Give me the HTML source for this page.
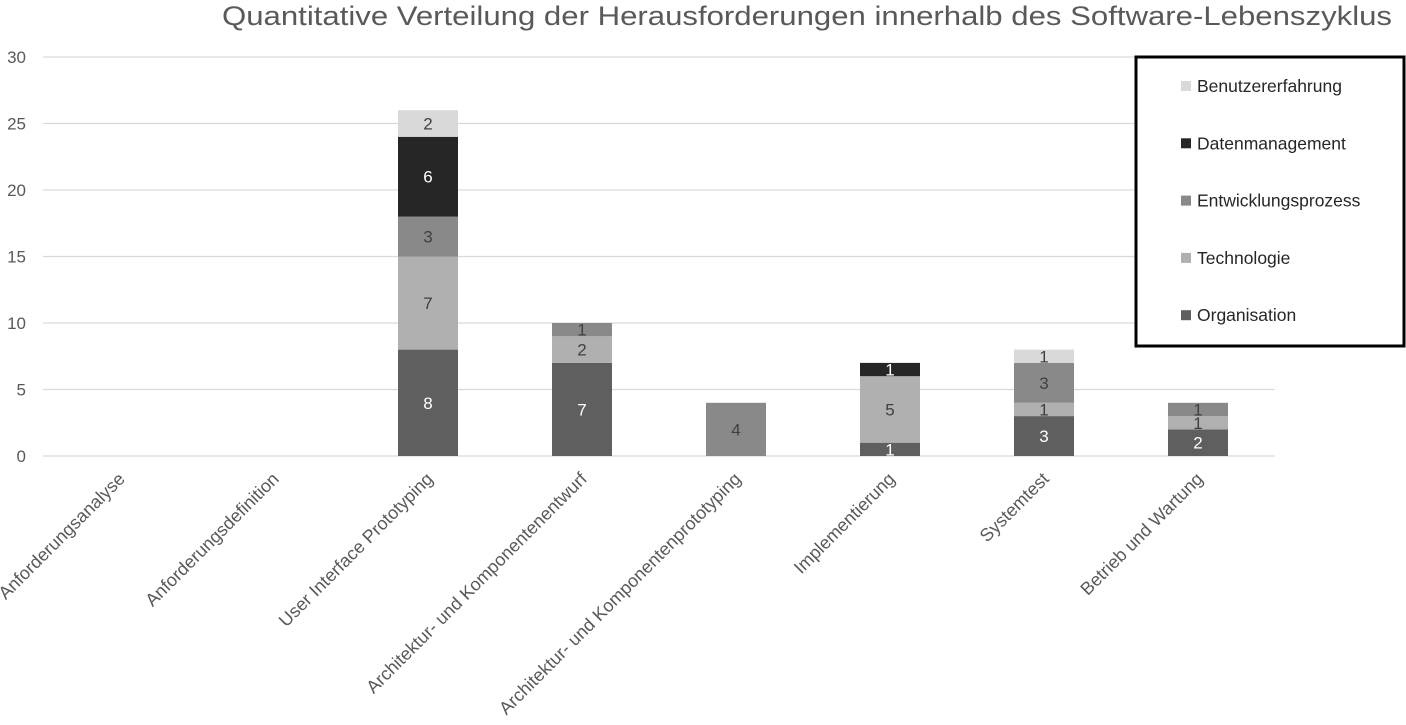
<!DOCTYPE html>
<html><head><meta charset="utf-8"><style>
body{margin:0;background:#fff;}
svg{display:block;font-family:"Liberation Sans",sans-serif;}
</style></head><body>
<svg id="chart" width="1406" height="725" viewBox="0 0 1406 725">
<text x="807" y="25" text-anchor="middle" font-size="27" textLength="1170" lengthAdjust="spacingAndGlyphs" fill="#595959">Quantitative Verteilung der Herausforderungen innerhalb des Software-Lebenszyklus</text>
<g id="grid"></g><g id="bars"></g><g id="xlabels"></g>
<g>
<rect x="1136" y="57" width="268" height="289" fill="#fff" stroke="#000" stroke-width="3"/>
<g id="legend"></g>
</g>
</svg>
<script>
const categories=["Anforderungsanalyse","Anforderungsdefinition","User Interface Prototyping","Architektur- und Komponentenentwurf","Architektur- und Komponentenprototyping","Implementierung","Systemtest","Betrieb und Wartung"];
const seriesNames=["Organisation","Technologie","Entwicklungsprozess","Datenmanagement","Benutzererfahrung"];
const organisation=[0,0,8,7,0,1,3,2];
const technologie=[0,0,7,2,0,5,1,1];
const entwicklung=[0,0,3,1,4,0,3,1];
const daten=[0,0,6,0,0,1,0,0];
const benutzer=[0,0,2,0,0,0,1,0];
const yTicks=[0,5,10,15,20,25,30];
const series=[organisation,technologie,entwicklung,daten,benutzer];
const colors=["#5f5f5f","#b0b0b0","#898989","#262626","#d9d9d9"];
const labelColors=["#fff","#404040","#404040","#fff","#404040"];
const NS="http://www.w3.org/2000/svg";
const x0=43,x1=1275,y0=456,yTop=57,yMax=30;
const y=v=>y0-(y0-yTop)*v/yMax;
const band=(x1-x0)/categories.length;
const cx=i=>x0+band*(i+0.5);
const bw=60;
function mk(t,a,p){const e=document.createElementNS(NS,t);for(const k in a)e.setAttribute(k,a[k]);p.appendChild(e);return e;}
const grid=document.getElementById('grid');
yTicks.forEach(t=>{
 const l=mk('line',{x1:x0,x2:x1,y1:y(t),y2:y(t),stroke:'#d9d9d9','stroke-width':1.3},grid);
 
 
 const tx=mk('text',{x:26,y:y(t)+6,'text-anchor':'end','font-size':17,fill:'#595959'},grid);
 tx.textContent=t;
 
 
});
const bars=document.getElementById('bars');
categories.forEach((c,i)=>{
 let acc=0;
 series.forEach((s,j)=>{
  const v=s[i]; if(!v) return;
  const r=mk('rect',{x:cx(i)-bw/2,y:y(acc+v),width:bw,height:y(acc)-y(acc+v),fill:colors[j]},bars);
  
  
  const t=mk('text',{x:cx(i),y:(y(acc)+y(acc+v))/2+6,'text-anchor':'middle','font-size':17,fill:labelColors[j]},bars);
  t.textContent=v;
  
  
  acc+=v;
 });
 const xl=document.getElementById('xlabels');
 const t=mk('text',{x:0,y:0,'text-anchor':'end','font-size':18,fill:'#595959',transform:`translate(${cx(i)+6},${y0+24}) rotate(-45)`},xl);
 t.textContent=c;
 
 
});
const lg=document.getElementById('legend');
for(let k=4;k>=0;k--){
 const row=4-k, ry=86+row*57.3;
 const sw=mk('rect',{x:1181,y:ry-5,width:10,height:10,fill:colors[k]},lg);
 
 
 const t=mk('text',{x:1197,y:ry+6,'font-size':17.5,fill:'#262626'},lg);
 t.textContent=seriesNames[k];
 
 
}
</script>
</body></html>
